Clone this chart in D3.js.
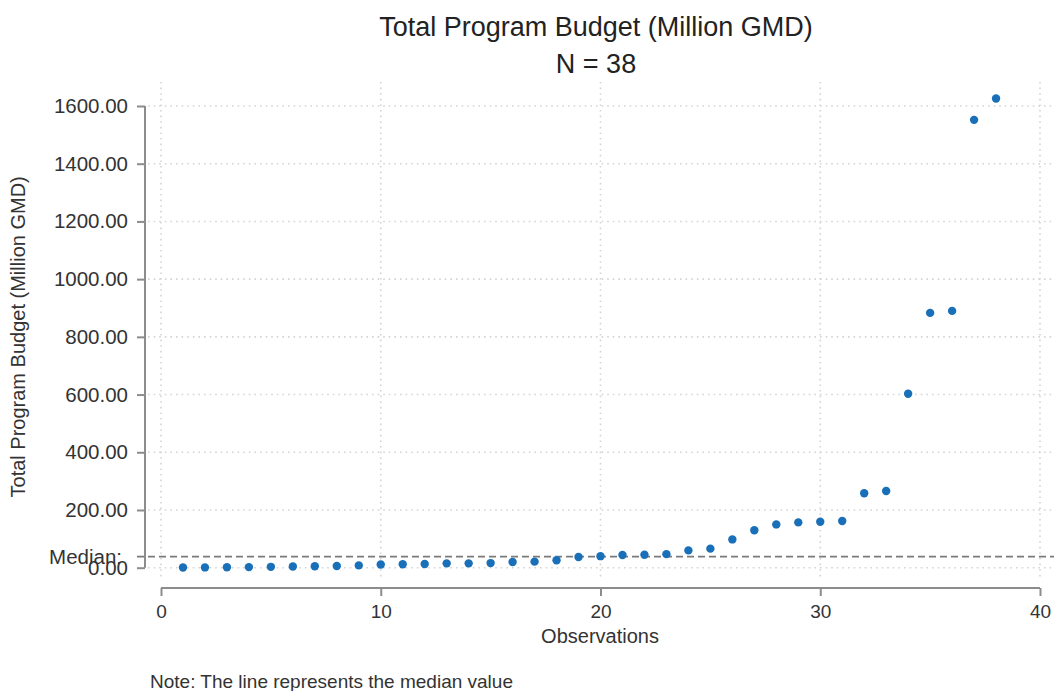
<!DOCTYPE html>
<html>
<head>
<meta charset="utf-8">
<script src="https://cdn.jsdelivr.net/npm/d3@7"></script>
<style>
  html, body { margin: 0; padding: 0; background: #fff; }
  svg { display: block; font-family: "Liberation Sans", Arial, sans-serif; }
</style>
</head>
<body>
<svg id="chart" width="1054" height="691"></svg>
<script>
// Total program budget per observation, sorted ascending (Million GMD)
const budgets = [0.5, 1, 1.5, 2, 3, 4, 5, 6, 8, 11, 12, 13, 15, 15, 16, 20, 21, 26, 37, 40,
                 44, 45, 47, 60, 66, 98, 130, 150, 157, 159, 162, 258, 266, 603, 883, 890, 1552, 1626];
const yTicks = [0, 200, 400, 600, 800, 1000, 1200, 1400, 1600];
const xTicks = [0, 10, 20, 30, 40];
const titleLines = ["Total Program Budget (Million GMD)", "N = " + budgets.length];
const yTitle = "Total Program Budget (Million GMD)";
const xTitle = "Observations";
const note = "Note: The line represents the median value";

const points = budgets.map((v, i) => ({ obs: i + 1, value: v }));
const median = d3.median(budgets);

const svg = d3.select("#chart");
const x = d3.scaleLinear().domain([0, 40]).range([161, 1040]);
const y = d3.scaleLinear().domain([0, 1600]).range([567.7, 106]);

const plot = { left: 148, right: 1054, top: 82, bottom: 580 };
const axisColor = "#8c8c8c";
const textColor = "#333";

// grid
const grid = svg.append("g");
grid.selectAll("line.h").data(yTicks).join("line")
  .attr("x1", plot.left).attr("x2", plot.right)
  .attr("y1", d => y(d)).attr("y2", d => y(d))
  .attr("stroke", "#d4d4d4").attr("stroke-width", 1.6).attr("stroke-dasharray", "1.6,4");
grid.selectAll("line.v").data(xTicks).join("line")
  .attr("x1", d => x(d)).attr("x2", d => x(d))
  .attr("y1", plot.top).attr("y2", plot.bottom)
  .attr("stroke", "#d4d4d4").attr("stroke-width", 1.6).attr("stroke-dasharray", "1.6,4");

// y axis
const yAxis = svg.append("g").attr("transform", "translate(145,0)")
  .call(d3.axisLeft(y).tickValues(yTicks).tickSize(8).tickPadding(9).tickFormat(d3.format(".2f")));
yAxis.select(".domain").attr("stroke", axisColor).attr("stroke-width", 2)
  .attr("d", `M0,${y(1600)}V${y(0)}`);
yAxis.selectAll(".tick line").attr("stroke", axisColor).attr("stroke-width", 2);
yAxis.selectAll(".tick text").attr("fill", textColor).attr("font-size", 20.5)
  .attr("font-family", "Liberation Sans, Arial, sans-serif");

// x axis
const xAxis = svg.append("g").attr("transform", "translate(0,588)")
  .call(d3.axisBottom(x).tickValues(xTicks).tickSize(8).tickPadding(9));
xAxis.select(".domain").attr("stroke", axisColor).attr("stroke-width", 2)
  .attr("d", `M${x(0)},0H${x(40)}`);
xAxis.selectAll(".tick line").attr("stroke", axisColor).attr("stroke-width", 2);
xAxis.selectAll(".tick text").attr("fill", textColor).attr("font-size", 19)
  .attr("font-family", "Liberation Sans, Arial, sans-serif");

// median reference line with its axis label
svg.append("line")
  .attr("x1", 137).attr("x2", plot.right)
  .attr("y1", y(median)).attr("y2", y(median))
  .attr("stroke", "#7a7a7a").attr("stroke-width", 1.8).attr("stroke-dasharray", "7,4");
svg.append("text")
  .attr("x", 122).attr("y", y(median)).attr("dy", "0.35em")
  .attr("text-anchor", "end").attr("font-size", 20.5).attr("fill", textColor)
  .text("Median:");

// points
svg.append("g").selectAll("circle").data(points).join("circle")
  .attr("cx", d => x(d.obs)).attr("cy", d => y(d.value))
  .attr("r", 4.2).attr("fill", "#1a70b8");

// titles
svg.append("g").selectAll("text").data(titleLines).join("text")
  .attr("x", 596).attr("y", (d, i) => 36 + i * 37)
  .attr("text-anchor", "middle").attr("font-size", 27).attr("fill", "#222")
  .text(d => d);

svg.append("text")
  .attr("transform", `translate(25,${(y(0) + y(1600)) / 2}) rotate(-90)`)
  .attr("text-anchor", "middle").attr("font-size", 20).attr("fill", textColor)
  .text(yTitle);

svg.append("text")
  .attr("x", 600).attr("y", 643)
  .attr("text-anchor", "middle").attr("font-size", 20).attr("fill", textColor)
  .text(xTitle);

svg.append("text")
  .attr("x", 150).attr("y", 688)
  .attr("font-size", 19).attr("fill", textColor)
  .text(note);
</script>
</body>
</html>
